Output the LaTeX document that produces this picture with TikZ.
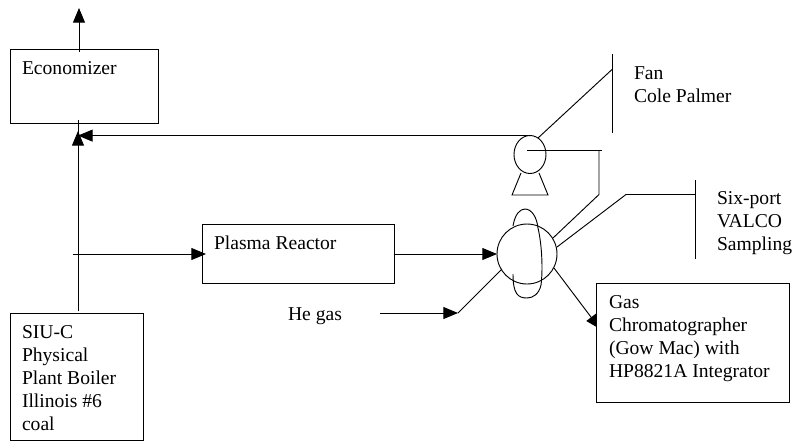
\documentclass[tikz,border=0pt]{standalone}
\usepackage{fontspec}
\setmainfont{Liberation Serif}
\usetikzlibrary{arrows.meta,shapes.geometric}
\tikzset{
  x=0.75pt,y=-0.75pt,
  ln/.style={line width=0.7pt,black},
  arr/.style={ln,-{Triangle[length=11pt,width=9pt]}},
  box/.style={draw=black,fill=white,line width=0.7pt,inner sep=0pt,outer sep=0pt},
  lab/.style={anchor=base west,inner sep=0pt,outer sep=0pt,font=\fontsize{14.7pt}{17.25pt}\selectfont,text=black},
  shp/.style={draw=black,line width=0.7pt,inner sep=0pt,outer sep=0pt}
}
\newcommand{\pxbox}[5]{\node[box,minimum width=#4*0.75pt,minimum height=#5*0.75pt] (#1) at (#2,#3) {};}
\begin{document}
\begin{tikzpicture}
\path[use as bounding box,fill=white] (0,0) rectangle (794,444);
% free ends and junctions
\coordinate (top) at (79,8);
\coordinate (econB) at (79,52);
\coordinate (riser) at (78,120);
\coordinate (riserTip) at (78,131);
\coordinate (boilerTop) at (78,311);
\coordinate (fanRet) at (530,135.6);
\coordinate (retTip) at (78,135.6);
\coordinate (tapL) at (73,254);
\coordinate (reacIn) at (206,254);
\coordinate (reacOut) at (394,254);
\coordinate (valveIn) at (497,254);
\coordinate (heStart) at (380,313);
\coordinate (heBend) at (458,313);
\coordinate (valveHe) at (502,269);
\coordinate (valveGc) at (554,268);
\coordinate (gcTip) at (600,329);
\coordinate (fanT) at (612,54);
\coordinate (fanB) at (612,133);
\coordinate (fanJ) at (612,69.5);
\coordinate (fanC) at (538,138);
\coordinate (shaft) at (527,150);
\coordinate (shaftE) at (602,150);
\coordinate (lnkA) at (599,150);
\coordinate (lnkB) at (599,194.5);
\coordinate (lnkC) at (553,238);
\coordinate (vlvA) at (557,247);
\coordinate (vlvB) at (626,194.5);
\coordinate (vlvC) at (695,194.5);
\coordinate (sixT) at (695,180);
\coordinate (sixB) at (695,259);
% connectors under boxes
\draw[arr] (valveGc) -- (gcTip);
% boxes
\pxbox{econ}{84}{86}{148}{74}
\pxbox{boiler}{76.5}{376.5}{133}{127}
\pxbox{reactor}{298.25}{253.5}{192.5}{59}
\pxbox{gc}{692.5}{342.5}{193}{119}
% connectors
\draw[arr] (econB) -- (top);
\draw[ln] (boilerTop) -- (riser);
\draw[arr] (boilerTop) -- (riserTip);
\draw[arr] (fanRet) -- (retTip);
\draw[arr] (tapL) -- (reacIn);
\draw[arr] (reacOut) -- (valveIn);
\draw[arr] (heStart) -- (heBend);
\draw[ln] (heBend) -- (valveHe);
\draw[ln] (fanT) -- (fanB);
\draw[ln] (fanJ) -- (fanC);
\draw[ln] (sixT) -- (sixB);
\draw[ln] (vlvA) -- (vlvB) -- (vlvC);
\draw[ln] (lnkA) -- (lnkB) -- (lnkC);
% fan
\node[shp,ellipse,minimum width=24pt,minimum height=28.5pt] (fan) at (530,154.5) {};
\draw[ln] (shaft) -- (shaftE);
\draw[ln] (521,173) -- (512,195) -- (548,195) -- (539,173);
% valve
\node[shp,circle,minimum size=45pt] (valve) at (527,254) {};
\draw[ln] (513,226) .. controls (515,214) and (520,209) .. (525,209)
  .. controls (532,209) and (537,218) .. (538,228)
  .. controls (542,245) and (543,270) .. (541,285)
  .. controls (539,294) and (533,298) .. (527,298)
  .. controls (518,298) and (513,294) .. (513,274);
% labels
\node[lab] (tEcon) at (22,74) {Economizer};
\node[lab] (t1) at (22,338) {SIU-C};
\node[lab] (t2) at (22,361) {Physical};
\node[lab] (t3) at (22,384) {Plant Boiler};
\node[lab] (t4) at (22,407) {Illinois \#6};
\node[lab] (t5) at (22,430) {coal};
\node[lab] (tReac) at (214,249) {Plasma Reactor};
\node[lab] (tHe) at (288,320) {He gas};
\node[lab] (tFan) at (634,79) {Fan};
\node[lab] (tCole) at (634,102) {Cole Palmer};
\node[lab] (s1) at (717,204) {Six-port};
\node[lab] (s2) at (717,227) {VALCO};
\node[lab] (s3) at (717,250) {Sampling};
\node[lab] (g1) at (609,308) {Gas};
\node[lab] (g2) at (609,331) {Chromatographer};
\node[lab] (g3) at (609,354) {(Gow Mac) with};
\node[lab] (g4) at (609,377) {HP8821A Integrator};
\end{tikzpicture}
\end{document}
